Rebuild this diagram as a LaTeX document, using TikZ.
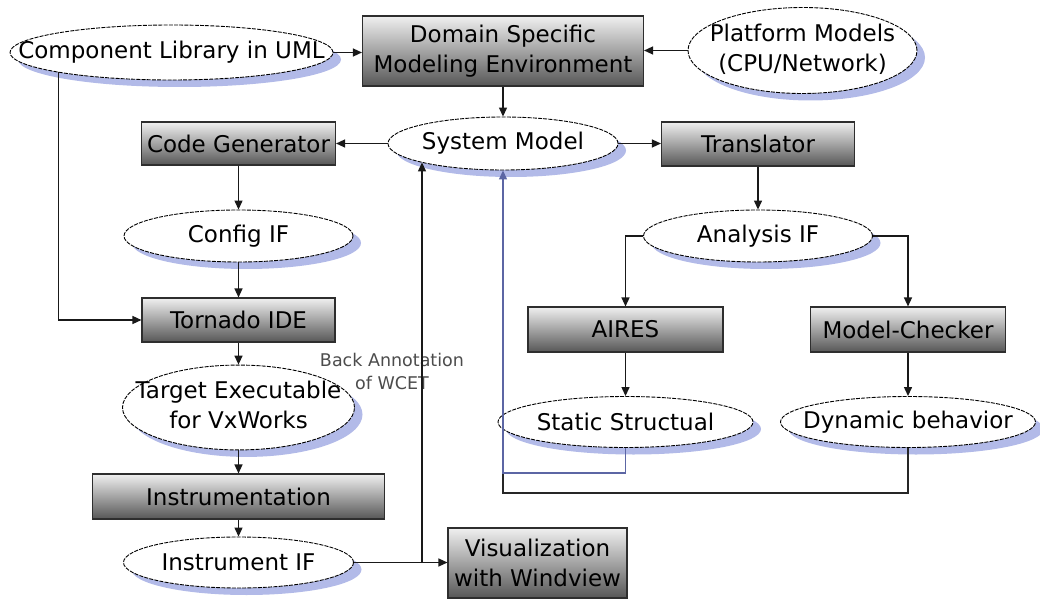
\documentclass[tikz,border=0pt]{standalone}
\usepackage{fontspec}
\setmainfont{DejaVu Sans}
\usetikzlibrary{shapes.geometric,shadows,arrows.meta}

\definecolor{shadowblue}{HTML}{B2BAE8}
\definecolor{linkblue}{HTML}{5C66A4}
\definecolor{boxedge}{HTML}{2E2E2E}

% text that does not widen its node
\newcommand\mkzw[1]{\makebox[0pt]{#1}}

\begin{document}
\begin{tikzpicture}[x=1pt,y=-1pt,
  every node/.style={font=\fontsize{23}{30}\selectfont},
  proc/.style={rectangle, draw=boxedge, line width=1.1pt,
    top color=black!6, bottom color=black!66, inner sep=2pt, align=center},
  data/.style={ellipse, draw=black, line width=0.9pt,
    dash pattern=on 4pt off 1.2pt, fill=white, inner sep=0pt,
    drop shadow={shadow xshift=8pt, shadow yshift=-7pt, fill=shadowblue, opacity=1}},
  arr/.style={draw=black!90, line width=1.3pt, -{Triangle[length=9pt,width=8pt]}},
  plain/.style={draw=black!85, line width=1.3pt},
  backarr/.style={draw=linkblue, line width=1.3pt, -{Triangle[length=9pt,width=8pt]}},
  note/.style={font=\fontsize{17.5}{23}\selectfont, text=black!70, align=center}]

\useasboundingbox (0,0) rectangle (1040,601);

% ---- top row
\node[data, minimum width=323pt, minimum height=55pt] (comp) at (171.5,52.5)
  {\mkzw{Component Library in UML}};
\node[proc, minimum width=281pt, minimum height=70pt] (dsme) at (503,51)
  {Domain Specific\\Modeling Environment};
\node[data, minimum width=229pt, minimum height=86pt] (plat) at (802.5,50.5)
  {\mkzw{\begin{tabular}{@{}c@{}}Platform Models\\(CPU/Network)\end{tabular}}};

% ---- system model row
\node[data, minimum width=230pt, minimum height=53pt] (sys) at (503,143.5)
  {\mkzw{System Model}};
\node[proc, minimum width=194pt, minimum height=43pt] (codegen) at (238.5,143.5)
  {Code Generator};
\node[proc, minimum width=193pt, minimum height=44pt] (trans) at (758,144)
  {Translator};

% ---- code generation chain
\node[data, minimum width=229pt, minimum height=52pt] (config) at (238.5,236)
  {\mkzw{Config IF}};
\node[proc, minimum width=193pt, minimum height=44pt] (tornado) at (238.5,320)
  {Tornado IDE};
\node[data, minimum width=232pt, minimum height=79pt] (target) at (238.5,407.5)
  {\mkzw{\begin{tabular}{@{}c@{}}Target Executable\\for VxWorks\end{tabular}}};
\node[proc, minimum width=292pt, minimum height=45pt] (instr) at (238.5,496.5)
  {Instrumentation};
\node[data, minimum width=230pt, minimum height=51pt] (instif) at (238.5,562.5)
  {\mkzw{Instrument IF}};
\node[proc, minimum width=179pt, minimum height=70pt] (vis) at (537.5,563)
  {Visualization\\with Windview};

% ---- analysis chain
\node[data, minimum width=229pt, minimum height=52pt] (anaif) at (758,236)
  {\mkzw{Analysis IF}};
\node[proc, minimum width=195pt, minimum height=45pt] (aires) at (625.5,329.5)
  {AIRES};
\node[proc, minimum width=195pt, minimum height=45pt] (mc) at (908,329.5)
  {Model-Checker};
\node[data, minimum width=255pt, minimum height=51pt] (static) at (625.5,422)
  {\mkzw{Static Structual}};
\node[data, minimum width=255pt, minimum height=51pt] (dyn) at (908,422)
  {\mkzw{Dynamic behavior}};

\node[note] (banote) at (392,371) {Back Annotation\\of WCET};

% ---- connectors
\draw[arr] (comp.east) -- (dsme.west |- comp.east);
\draw[arr] (plat.west) -- (dsme.east |- plat.west);
\draw[arr] (dsme.south) -- (sys.north);
\draw[arr] (sys.west) -- (codegen.east);
\draw[arr] (sys.east) -- (trans.west |- sys.east);
\draw[arr] (codegen.south) -- (config.north);
\draw[arr] (config.south) -- (tornado.north);
\draw[arr] (comp.-170) |- (tornado.west);
\draw[arr] (tornado.south) -- (target.north);
\draw[arr] (target.south) -- (instr.north);
\draw[arr] (instr.south) -- (instif.north);
\draw[arr] (instif.east) -- (vis.west |- instif.east);

\coordinate (bajoin) at (422,563);
\draw[arr] (bajoin) -- (bajoin |- sys.-167);

\draw[arr] (trans.south) -- (anaif.north);
\draw[arr] (anaif.west) -| (aires.north);
\draw[arr] (anaif.east) -| (mc.north);
\draw[arr] (aires.south) -- (static.north);
\draw[arr] (mc.south) -- (dyn.north);

% feedback from the analysis results
\coordinate (lowturn) at (503,493);
\coordinate (highturn) at (503,473);
\draw[plain] (dyn.south) |- (lowturn) -- (highturn);
\draw[backarr] (static.south) |- (highturn) -- (sys.south);

\end{tikzpicture}
\end{document}
